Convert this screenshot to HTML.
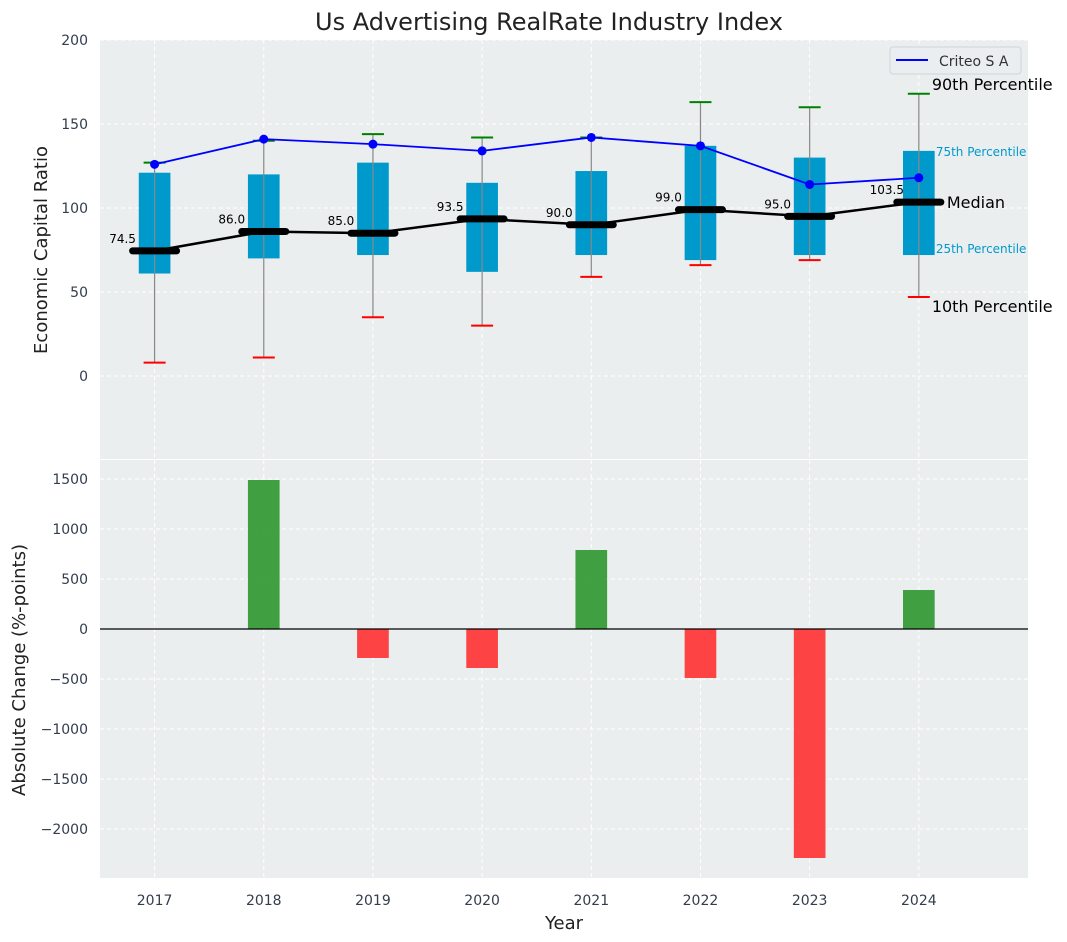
<!DOCTYPE html>
<html><head><meta charset="utf-8"><style>
body{margin:0;background:#fff;}
svg{display:block;font-family:"DejaVu Sans","Liberation Sans",sans-serif;}
</style></head><body>
<svg id="c" width="1067" height="942" xmlns="http://www.w3.org/2000/svg"></svg>
<script>
const years=[2017,2018,2019,2020,2021,2022,2023,2024];
const p10=[8,11,35,30,59,66,69,47];
const q1=[61,70,72,62,72,69,72,72];
const medians=[74.5,86,85,93.5,90,99,95,103.5];
const q3=[121,120,127,115,122,137,130,134];
const p90=[127,140,144,142,142,163,160,168];
const criteo=[126,141,138,134,142,137,114,118];
const changes=[null,1490,-290,-390,790,-490,-2290,390];
const topTicks=[0,50,100,150,200];
const botTicks=[-2000,-1500,-1000,-500,0,500,1000,1500];

const NS="http://www.w3.org/2000/svg";
const svg=document.getElementById('c');
function el(tag,attrs,parent){const e=document.createElementNS(NS,tag);for(const k in attrs)e.setAttribute(k,attrs[k]);(parent||svg).appendChild(e);return e;}
const L=100,R=1028;
const x=v=>L+(v-2016.5)/(2025-2016.5)*(R-L);
const T0=40,T1=459,yT=v=>T0+(200-v)/(200-(-49.4))*(T1-T0);
const B0=460,B1=878,yB=v=>B0+(1690-v)/(1690-(-2490))*(B1-B0);

let r=el('rect',{x:L,y:T0,width:R-L,height:T1-T0,fill:'#eaeeef'});

r=el('rect',{x:L,y:B0,width:R-L,height:B1-B0,fill:'#eaeeef'});


years.forEach(yv=>{
  el('line',{x1:x(yv),x2:x(yv),y1:T0,y2:T1,stroke:'#fff','stroke-dasharray':'4,3','stroke-width':1});
  el('line',{x1:x(yv),x2:x(yv),y1:B0,y2:B1,stroke:'#fff','stroke-dasharray':'4,3','stroke-width':1});
  const t=el('text',{x:x(yv),y:905,'text-anchor':'middle','font-size':14,fill:'#333d4d'});t.textContent=yv;
  
});
topTicks.forEach(v=>{
  el('line',{x1:L,x2:R,y1:yT(v),y2:yT(v),stroke:'#fff','stroke-dasharray':'4,3'});
  const t=el('text',{x:L-12,y:yT(v)+5,'text-anchor':'end','font-size':14,fill:'#333d4d'});t.textContent=v;
  
});
botTicks.forEach(v=>{
  el('line',{x1:L,x2:R,y1:yB(v),y2:yB(v),stroke:'#fff','stroke-dasharray':'4,3'});
  const t=el('text',{x:L-12,y:yB(v)+5,'text-anchor':'end','font-size':14,fill:'#333d4d'});t.textContent=(v<0?'\u2212'+(-v):v);
  
});

const bw=0.29*(R-L)/8.5, cw=22, mw=44;
years.forEach((yv,i)=>{
  const cx=x(yv);
  const b=el('rect',{x:cx-bw/2,y:yT(q3[i]),width:bw,height:yT(q1[i])-yT(q3[i]),fill:'#0099cc'});
  
  el('line',{x1:cx,x2:cx,y1:yT(p10[i]),y2:yT(p90[i]),stroke:'#888','stroke-width':1.2});
  el('line',{x1:cx-cw/2,x2:cx+cw/2,y1:yT(p90[i]),y2:yT(p90[i]),stroke:'green','stroke-width':2});
  el('line',{x1:cx-cw/2,x2:cx+cw/2,y1:yT(p10[i]),y2:yT(p10[i]),stroke:'red','stroke-width':2});
});
let pts=years.map((yv,i)=>x(yv)+','+yT(medians[i])).join(' ');
let pl=el('polyline',{points:pts,fill:'none',stroke:'#000','stroke-width':2.5});

years.forEach((yv,i)=>{
  const cx=x(yv);
  const m=el('line',{x1:cx-mw/2,x2:cx+mw/2,y1:yT(medians[i]),y2:yT(medians[i]),stroke:'#000','stroke-width':7,'stroke-linecap':'round'});
  
  const t=el('text',{x:cx-32,y:yT(medians[i])-8,'text-anchor':'middle','font-size':12,fill:'#000'});t.textContent=medians[i].toFixed(1);
  
});
pts=years.map((yv,i)=>x(yv)+','+yT(criteo[i])).join(' ');
pl=el('polyline',{points:pts,fill:'none',stroke:'blue','stroke-width':1.8});

years.forEach((yv,i)=>{const c=el('circle',{cx:x(yv),cy:yT(criteo[i]),r:4.5,fill:'blue'});
  });

const li=years.length-1, ax=x(years[li]);
function ann(txt,xx,yy,size,col,name){const t=el('text',{x:xx,y:yy,'font-size':size,fill:col});t.textContent=txt;}
ann('90th Percentile',ax+13,yT(p90[li])-4,16,'#000','p90-annotation');
ann('75th Percentile',ax+17,yT(q3[li])+5,12,'#0099cc','p75-annotation');
ann('Median',ax+28,yT(medians[li])+6,16,'#000','median-annotation');
ann('25th Percentile',ax+17,yT(q1[li])-2,12,'#0099cc','p25-annotation');
ann('10th Percentile',ax+13,yT(p10[li])+15,16,'#000','p10-annotation');

const lg=el('g',{});
el('rect',{x:890,y:47,width:131,height:27,rx:3,fill:'#eaeef0',stroke:'#d0d4d8'},lg);
el('line',{x1:896,x2:928,y1:60,y2:60,stroke:'blue','stroke-width':2},lg);
const lt=el('text',{x:939,y:66,'font-size':14,fill:'#333'},lg);lt.textContent='Criteo S A';

years.forEach((yv,i)=>{
  const v=changes[i]; if(v===null||v===0)return;
  const y0=yB(Math.max(v,0)),y1=yB(Math.min(v,0));
  const b=el('rect',{x:x(yv)-bw/2,y:y0,width:bw,height:y1-y0,fill:v>0?'#2e962e':'#ff3030','fill-opacity':0.9});
  
});
el('line',{x1:L,x2:R,y1:yB(0),y2:yB(0),stroke:'#000','stroke-width':1.2});

ann('Us Advertising RealRate Industry Index',0,0,24,'#222','chart-title');
let tt=svg.lastChild;tt.setAttribute('x',549);tt.setAttribute('y',30);tt.setAttribute('text-anchor','middle');
let yl=el('text',{x:0,y:0,'font-size':18,fill:'#222','text-anchor':'middle',transform:'translate(47,250) rotate(-90)'});yl.textContent='Economic Capital Ratio';

yl=el('text',{x:0,y:0,'font-size':18,fill:'#222','text-anchor':'middle',transform:'translate(25,670) rotate(-90)'});yl.textContent='Absolute Change (%-points)';

yl=el('text',{x:564,y:929,'font-size':18,fill:'#222','text-anchor':'middle'});yl.textContent='Year';

</script>
</body></html>
